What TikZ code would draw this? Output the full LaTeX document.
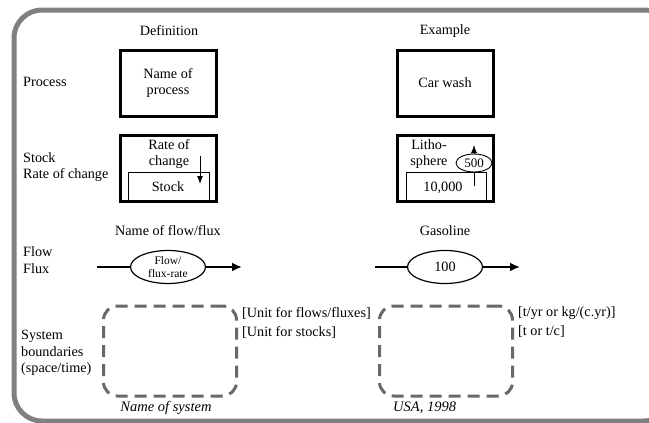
\documentclass[tikz,border=0pt]{standalone}
\usepackage{fontspec}
\setmainfont{Liberation Serif}
\usetikzlibrary{shapes.geometric,arrows.meta}

\definecolor{framegray}{HTML}{808080}
\definecolor{dashgray}{HTML}{686868}

\tikzset{
  rowlabel/.style={anchor=west, align=left, inner sep=0pt},
  procbox/.style={draw, line width=3pt, minimum width=96pt, minimum height=66pt, align=center},
  stockin/.style={draw, line width=0.9pt},
  rateellipse/.style={draw, ellipse, line width=0.9pt, inner sep=0.5pt, minimum width=36pt, minimum height=18pt, font=\fontsize{13}{14}\selectfont},
  flowellipse/.style={draw, ellipse, line width=1.2pt, minimum width=75pt, minimum height=33pt, inner sep=0pt, align=center},
  flowline/.style={line width=2pt},
  sysbox/.style={draw=dashgray, line width=3pt, dash pattern=on 12pt off 7pt, rounded corners=14pt, minimum width=133pt, minimum height=90pt},
  unitlabel/.style={anchor=west, align=left, inner sep=0pt}
}

\begin{document}
\begin{tikzpicture}[x=1pt, y=-1pt, every node/.style={font=\fontsize{14.2}{16.5}\selectfont}]
  \useasboundingbox (0,0) rectangle (649,423);

  % Frame
  \draw[framegray, line width=5pt, rounded corners=28pt] (14,10) rectangle (672,421);

  % Column heads
  \node (defhead) at (169,31) {Definition};
  \node (exhead) at (445,31) {Example};

  % Row labels
  \node[rowlabel] (proclabel) at (23,82) {Process};
  \node[rowlabel] (stocklabel) at (23,167) {Stock\\Rate of change};
  \node[rowlabel] (flowlabel) at (23,260) {Flow\\Flux};
  \node[rowlabel] (syslabel) at (21,353) {System\\boundaries\\(space/time)};

  % Process
  \node[procbox] (defproc) at (168,83) {Name of\\process};
  \node[procbox] (exproc) at (445,83) {Car wash};

  % Stock, definition
  \node[procbox] (defstock) at (168,168) {};
  \draw[stockin] (128,201) |- (209,172) -- (209,201);
  \node[align=center] (defrate) at (169,154) {Rate of\\change};
  \node (defstocktext) at (168,187) {Stock};
  \coordinate (defratetop) at (200,156);
  \coordinate (defratebot) at (200,184);
  \draw[line width=1pt, -{Latex[length=8pt,width=6pt]}] (defratetop) -- (defratebot);

  % Stock, example
  \node[procbox] (exstock) at (445,168) {};
  \draw[stockin] (406,201) |- (486,172) -- (486,201);
  \node[align=center] (litho) at (429,154) {Litho-\\sphere};
  \node[rateellipse] (exrate) at (474,163) {500};
  \node (exstocktext) at (443,188) {10,000};
  \coordinate (exratebot) at (474,186);
  \coordinate (exratetop) at (474,145);
  \draw[line width=1pt] (exratebot) -- (exrate);
  \draw[line width=1pt, -{Latex[length=8pt,width=6pt]}] (exrate) -- (exratetop);

  % Flow
  \node (defflowhead) at (168,231) {Name of flow/flux};
  \node (exflowhead) at (445,231) {Gasoline};
  \node[flowellipse, font=\fontsize{11.5}{13}\selectfont] (defflow) at (168,267) {Flow/\\flux-rate};
  \node[flowellipse] (exflow) at (445,267) {100};
  \coordinate (defin) at (97,267);
  \coordinate (defout) at (242,267);
  \coordinate (exin) at (375,267);
  \coordinate (exout) at (520,267);
  \draw[flowline] (defin) -- (defflow);
  \draw[flowline, -{Latex[length=10pt,width=9pt]}] (defflow) -- (defout);
  \draw[flowline] (exin) -- (exflow);
  \draw[flowline, -{Latex[length=10pt,width=9pt]}] (exflow) -- (exout);

  % System boundaries
  \node[sysbox] (defsys) at (170,351) {};
  \node[sysbox] (exsys) at (446,351) {};
  \node[font=\fontsize{14.5}{16}\itshape] (defsysname) at (166,408) {Name of system};
  \node[font=\fontsize{14.5}{16}\itshape, anchor=west, inner sep=0pt] (exsysname) at (393,408) {USA, 1998};
  \node[unitlabel] (defflowunit) at (242,313) {[Unit for flows/fluxes]};
  \node[unitlabel] (defstockunit) at (242,332) {[Unit for stocks]};
  \node[unitlabel] (exflowunit) at (518,313) {[t/yr or kg/(c.yr)]};
  \node[unitlabel] (exstockunit) at (518,332) {[t or t/c]};

\end{tikzpicture}
\end{document}
